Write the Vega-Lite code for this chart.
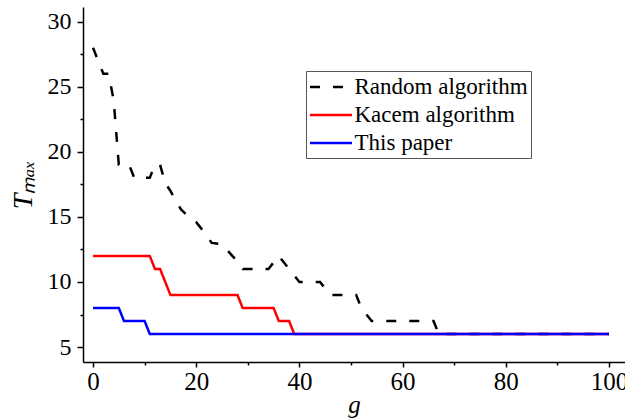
{
  "$schema": "https://vega.github.io/schema/vega-lite/v6.json",
  "width": 542,
  "height": 355,
  "padding": {"left": 83, "top": 7, "right": 0, "bottom": 56},
  "autosize": {"type": "none"},
  "background": "white",
  "config": {
    "view": {"stroke": null},
    "font": "Liberation Serif, Times New Roman, serif",
    "axis": {"domainColor": "black", "domainWidth": 1.5, "tickColor": "black", "tickWidth": 1.5, "labelColor": "black", "titleColor": "black", "grid": false, "labelFont": "Liberation Serif, Times New Roman, serif", "titleFont": "Liberation Serif, Times New Roman, serif"},
    "legend": {"labelFont": "Liberation Serif, Times New Roman, serif", "labelLimit": 400}
  },
  "data": {
    "values": [
      {"alg": "Random algorithm", "g": 0, "T": 28},
      {"alg": "Random algorithm", "g": 2, "T": 26},
      {"alg": "Random algorithm", "g": 3, "T": 26},
      {"alg": "Random algorithm", "g": 4, "T": 24},
      {"alg": "Random algorithm", "g": 5, "T": 19},
      {"alg": "Random algorithm", "g": 7, "T": 19},
      {"alg": "Random algorithm", "g": 8, "T": 18},
      {"alg": "Random algorithm", "g": 11, "T": 18},
      {"alg": "Random algorithm", "g": 12, "T": 19},
      {"alg": "Random algorithm", "g": 13, "T": 19},
      {"alg": "Random algorithm", "g": 14, "T": 17.6},
      {"alg": "Random algorithm", "g": 15, "T": 17},
      {"alg": "Random algorithm", "g": 17, "T": 15.6},
      {"alg": "Random algorithm", "g": 18, "T": 15.2},
      {"alg": "Random algorithm", "g": 20, "T": 14.6},
      {"alg": "Random algorithm", "g": 22, "T": 13.6},
      {"alg": "Random algorithm", "g": 23, "T": 13},
      {"alg": "Random algorithm", "g": 25, "T": 12.9},
      {"alg": "Random algorithm", "g": 27, "T": 12},
      {"alg": "Random algorithm", "g": 28, "T": 11.6},
      {"alg": "Random algorithm", "g": 29, "T": 11},
      {"alg": "Random algorithm", "g": 34, "T": 11},
      {"alg": "Random algorithm", "g": 36, "T": 12},
      {"alg": "Random algorithm", "g": 38, "T": 11},
      {"alg": "Random algorithm", "g": 40, "T": 10},
      {"alg": "Random algorithm", "g": 44, "T": 10},
      {"alg": "Random algorithm", "g": 46, "T": 9},
      {"alg": "Random algorithm", "g": 51, "T": 9},
      {"alg": "Random algorithm", "g": 52, "T": 8},
      {"alg": "Random algorithm", "g": 54, "T": 7},
      {"alg": "Random algorithm", "g": 66, "T": 7},
      {"alg": "Random algorithm", "g": 67, "T": 6},
      {"alg": "Random algorithm", "g": 100, "T": 6},
      {"alg": "Kacem algorithm", "g": 0, "T": 12},
      {"alg": "Kacem algorithm", "g": 11, "T": 12},
      {"alg": "Kacem algorithm", "g": 12, "T": 11},
      {"alg": "Kacem algorithm", "g": 13, "T": 11},
      {"alg": "Kacem algorithm", "g": 15, "T": 9},
      {"alg": "Kacem algorithm", "g": 28, "T": 9},
      {"alg": "Kacem algorithm", "g": 29, "T": 8},
      {"alg": "Kacem algorithm", "g": 35, "T": 8},
      {"alg": "Kacem algorithm", "g": 36, "T": 7},
      {"alg": "Kacem algorithm", "g": 38, "T": 7},
      {"alg": "Kacem algorithm", "g": 39, "T": 6},
      {"alg": "Kacem algorithm", "g": 100, "T": 6},
      {"alg": "This paper", "g": 0, "T": 8},
      {"alg": "This paper", "g": 5, "T": 8},
      {"alg": "This paper", "g": 6, "T": 7},
      {"alg": "This paper", "g": 10, "T": 7},
      {"alg": "This paper", "g": 11, "T": 6},
      {"alg": "This paper", "g": 100, "T": 6}
    ]
  },
  "mark": {"type": "line", "strokeWidth": 2.5, "clip": false},
  "encoding": {
    "x": {
      "field": "g", "type": "quantitative",
      "scale": {"domain": [-1.94, 103.1], "nice": false, "zero": false},
      "axis": {
        "values": [0, 10, 20, 30, 40, 50, 60, 70, 80, 90, 100],
        "labelExpr": "datum.value % 20 === 0 ? datum.label : ''",
        "tickSize": {"condition": {"test": "datum.value % 20 === 0", "value": 5}, "value": 3},
        "labelPadding": 2,
        "labelFontSize": 25,
        "title": "g",
        "titleFontStyle": "italic",
        "titleFontWeight": "normal",
        "titleFontSize": 25,
        "titlePadding": -2
      }
    },
    "y": {
      "field": "T", "type": "quantitative",
      "scale": {"domain": [3.85, 31.13], "nice": false, "zero": false},
      "axis": {
        "values": [5, 7.5, 10, 12.5, 15, 17.5, 20, 22.5, 25, 27.5, 30],
        "labelExpr": "datum.value % 5 === 0 ? datum.label : ''",
        "tickSize": {"condition": {"test": "datum.value % 5 === 0", "value": 6}, "value": 3},
        "labelPadding": 6,
        "labelFontSize": 24,
        "title": "Tₘₐₓ",
        "titleFontStyle": "italic",
        "titleFontWeight": "normal",
        "titleFontSize": 28,
        "titlePadding": 10
      }
    },
    "color": {
      "field": "alg", "type": "nominal",
      "scale": {"domain": ["Random algorithm", "Kacem algorithm", "This paper"], "range": ["black", "#ff0000", "#0000ff"]},
      "sort": ["Random algorithm", "Kacem algorithm", "This paper"],
      "legend": {
        "title": null,
        "orient": "none",
        "legendX": 223,
        "legendY": 64,
        "strokeColor": "#555555",
        "padding": 2.5,
        "symbolType": "M-1,0H2.5",
        "symbolSize": 576,
        "symbolStrokeWidth": 2.5,
        "labelFontSize": 23,
        "labelColor": "black",
        "labelOffset": 19,
        "labelLimit": 400,
        "rowPadding": 2,
        "fillColor": "white"
      }
    },
    "strokeDash": {
      "field": "alg", "type": "nominal",
      "scale": {"domain": ["Random algorithm", "Kacem algorithm", "This paper"], "range": [[10, 13], [1, 0], [1, 0]]},
      "sort": ["Random algorithm", "Kacem algorithm", "This paper"],
      "legend": {
        "title": null,
        "orient": "none",
        "legendX": 223,
        "legendY": 64,
        "strokeColor": "#555555",
        "padding": 2.5,
        "symbolType": "M-1,0H2.5",
        "symbolSize": 576,
        "symbolStrokeWidth": 2.5,
        "labelFontSize": 23,
        "labelColor": "black",
        "labelOffset": 19,
        "labelLimit": 400,
        "rowPadding": 2,
        "fillColor": "white"
      }
    },
    "order": {"field": "g", "type": "quantitative"}
  }
}
